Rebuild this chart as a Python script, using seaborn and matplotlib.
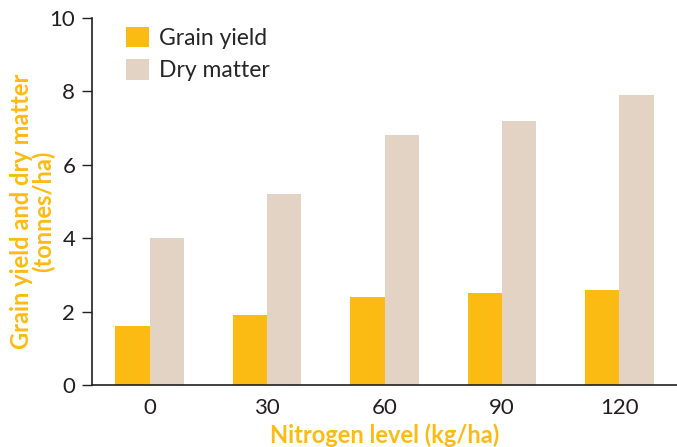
import matplotlib
matplotlib.use('Agg')
import matplotlib.pyplot as plt
import pandas as pd
import seaborn as sns
from matplotlib.ticker import FixedLocator

# data
nitrogen = ['0', '30', '60', '90', '120']
grain_yield = [1.6, 1.9, 2.4, 2.5, 2.6]
dry_matter = [4.0, 5.2, 6.8, 7.2, 7.9]

df = pd.DataFrame({
    'Nitrogen': nitrogen * 2,
    'Value': grain_yield + dry_matter,
    'Series': ['Grain yield'] * 5 + ['Dry matter'] * 5,
})

sns.set_style('white')
plt.rcParams['font.family'] = ['Lato', 'DejaVu Sans']

orange = '#FCBB13'
beige = '#E2D3C4'
dark = '#231F20'

fig = plt.figure(figsize=(6.77, 4.47), dpi=100)
ax = fig.add_axes([92 / 677, 62 / 447, 585 / 677, 367 / 447])

sns.barplot(data=df, x='Nitrogen', y='Value', hue='Series',
            palette=[orange, beige], width=0.58, saturation=1,
            linewidth=0, ax=ax, order=nitrogen)

ax.set_xlim(-0.49, 4.49)
ax.set_ylim(0, 10)
ax.set_yticks([0, 2, 4, 6, 8, 10])

for s in ['top', 'right']:
    ax.spines[s].set_visible(False)
for s in ['left', 'bottom']:
    ax.spines[s].set_color(dark)
    ax.spines[s].set_linewidth(1.2)

ax.tick_params(axis='x', which='major', length=0, labelsize=16, colors=dark, pad=9)
ax.xaxis.set_minor_locator(FixedLocator([0.5, 1.5, 2.5, 3.5]))
ax.tick_params(axis='x', which='minor', direction='in', length=8, width=1, color=dark)
ax.tick_params(axis='y', length=7, width=1, labelsize=16, colors=dark, pad=5, left=True)

ax.set_xlabel('Nitrogen level (kg/ha)', fontsize=17, fontweight='bold', color=orange, labelpad=4)
ax.set_ylabel('Grain yield and dry matter\n(tonnes/ha)', fontsize=17, fontweight='bold',
              color=orange, linespacing=0.95)
ax.yaxis.set_label_coords(-0.063, 0.472)

leg = ax.legend(loc='upper left', bbox_to_anchor=(0.023, 1.032), frameon=False,
                fontsize=16.5, handlelength=1.0, handleheight=1.0, handletextpad=0.45,
                labelspacing=0.45, title=None)

fig.savefig('out.png', dpi=100)
